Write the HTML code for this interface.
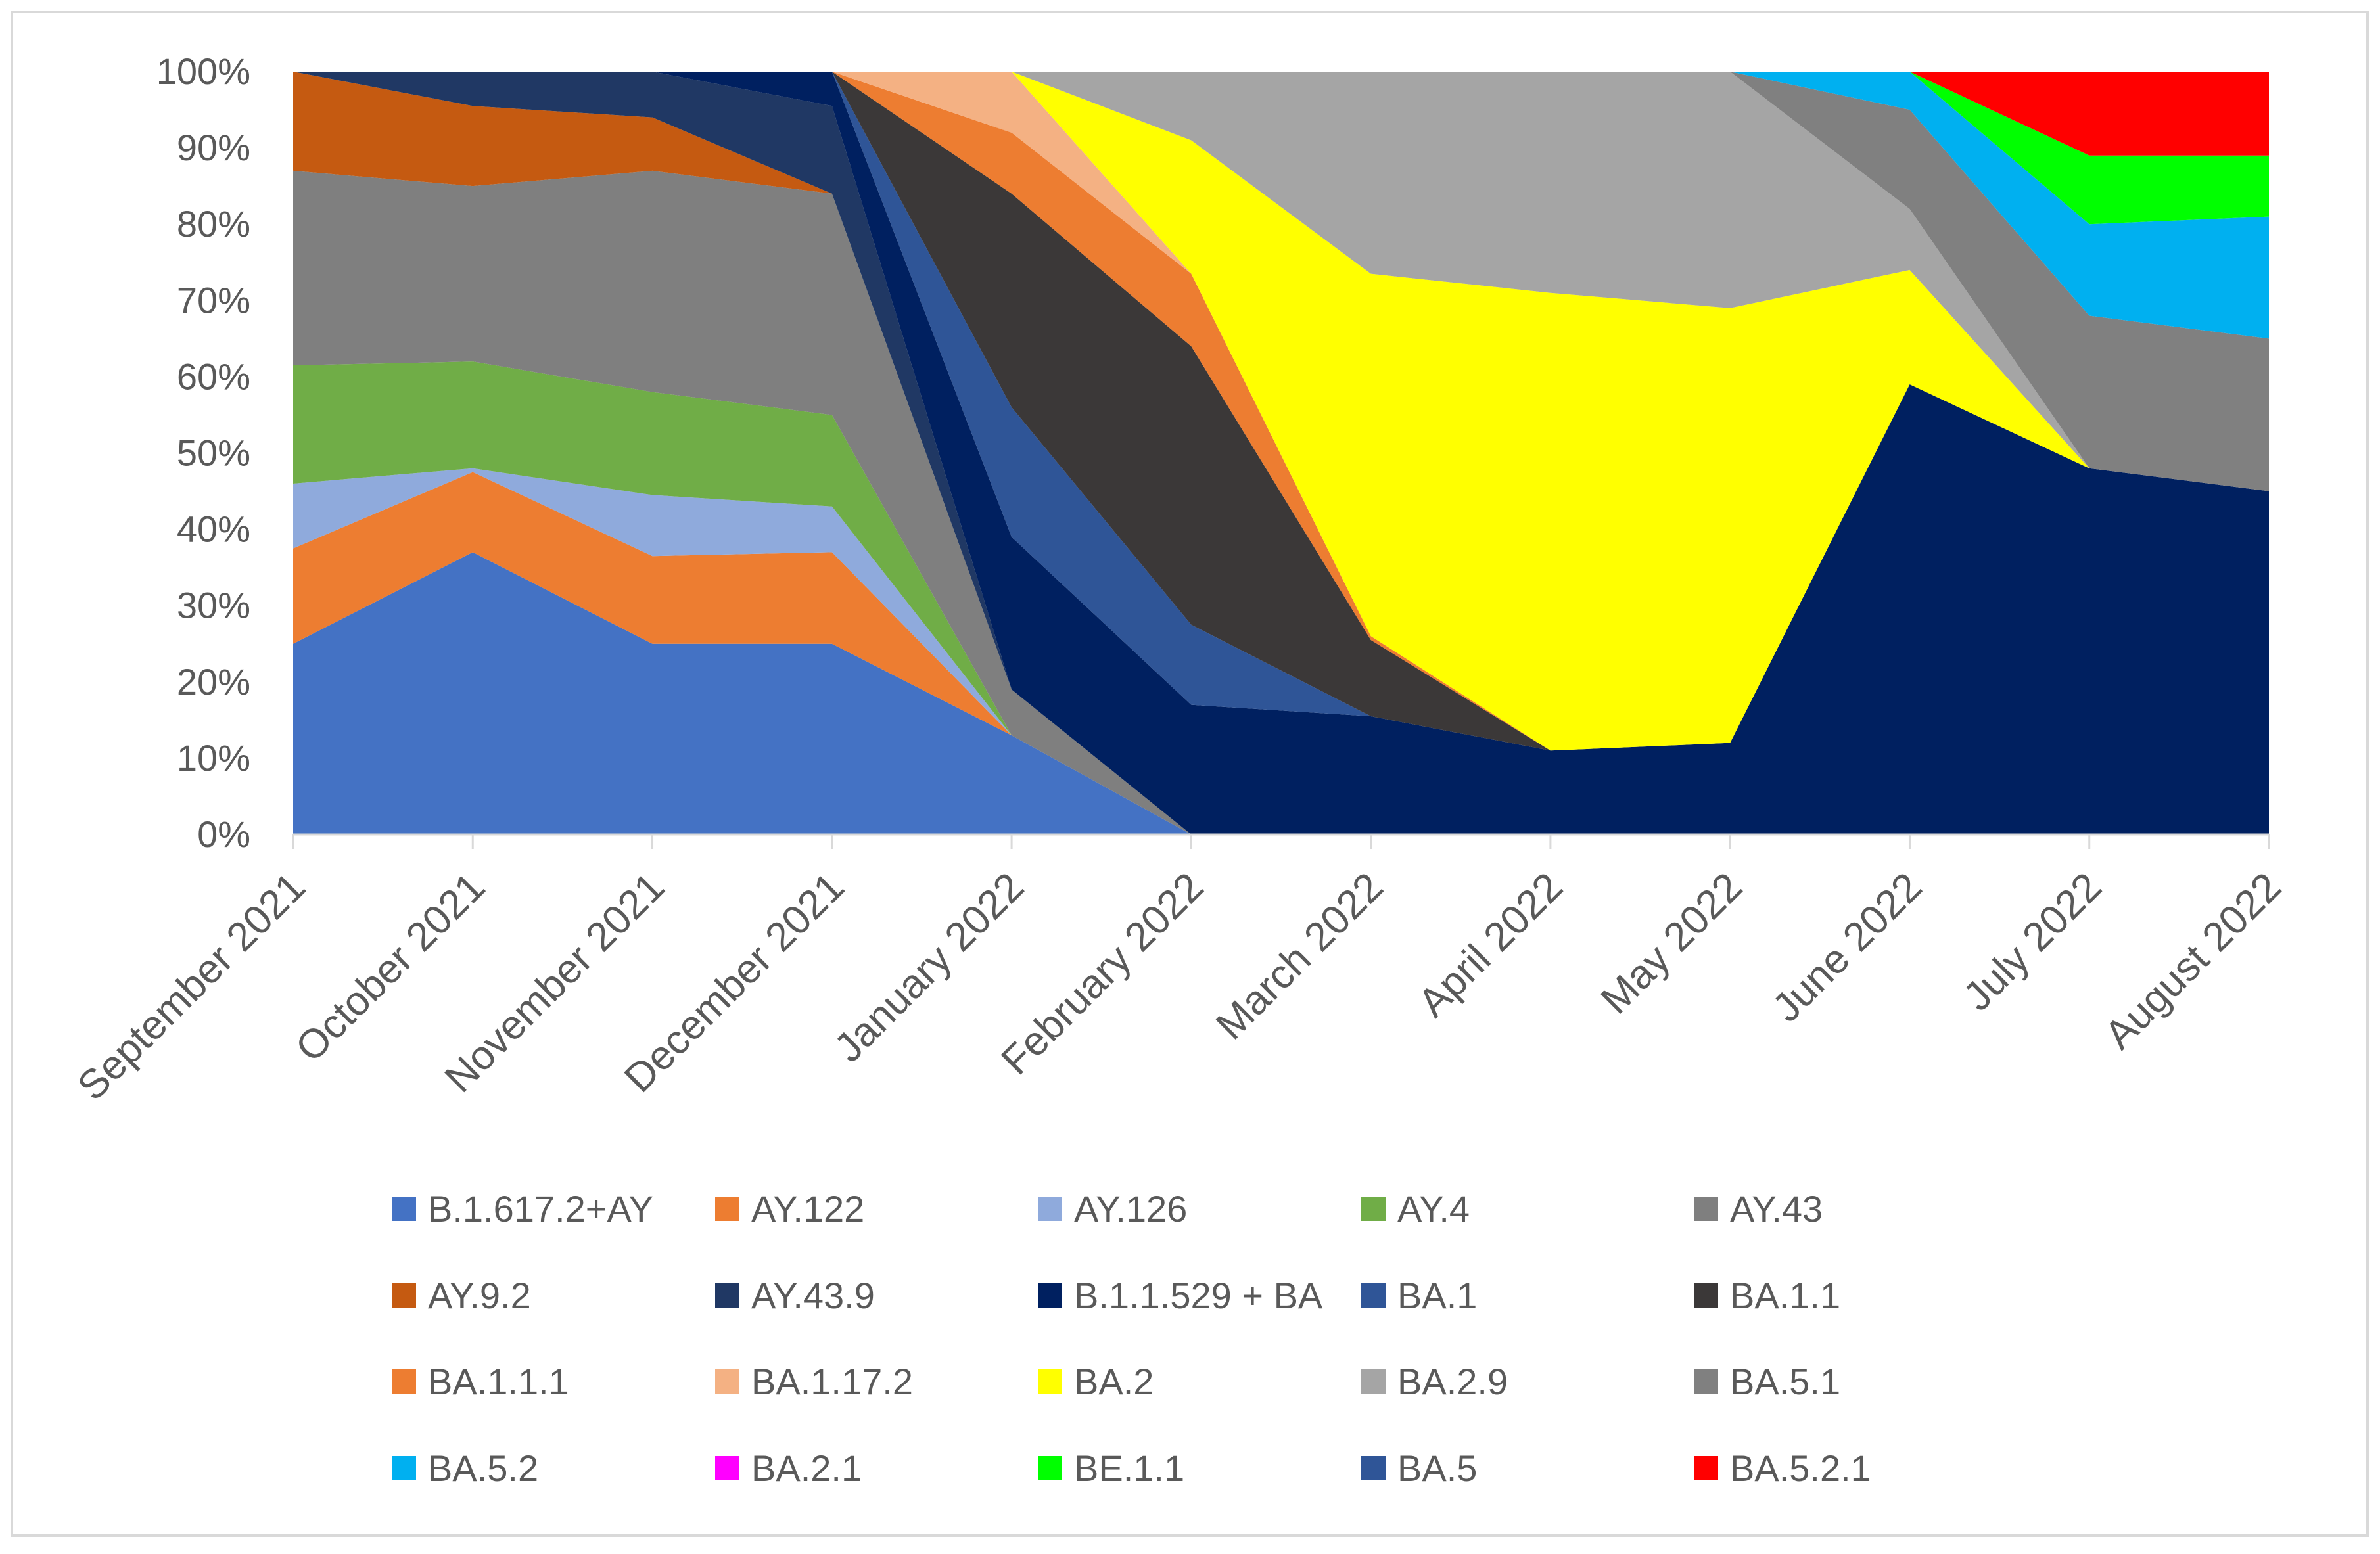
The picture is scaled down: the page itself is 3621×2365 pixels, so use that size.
<!DOCTYPE html>
<html><head><meta charset="utf-8"><style>
html,body{margin:0;padding:0;background:#fff;}
body{width:3621px;height:2360px;overflow:hidden;font-family:"Liberation Sans",sans-serif;}
</style></head><body>
<svg id="chart" width="3621" height="2360" xmlns="http://www.w3.org/2000/svg">
<rect x="18" y="18" width="3584" height="2319" fill="#fff" stroke="#D9D9D9" stroke-width="4"/>
<g id="areas"></g>
<g id="axes"></g>
<g id="legend"></g>
</svg>
<script>
const months = ["September 2021","October 2021","November 2021","December 2021","January 2022","February 2022","March 2022","April 2022","May 2022","June 2022","July 2022","August 2022"];
const yTicks = ["0%","10%","20%","30%","40%","50%","60%","70%","80%","90%","100%"];
const seriesNames = ["B.1.617.2+AY","AY.122","AY.126","AY.4","AY.43","AY.9.2","AY.43.9","B.1.1.529 + BA","BA.1","BA.1.1","BA.1.1.1","BA.1.17.2","BA.2","BA.2.9","BA.5.1","BA.5.2","BA.2.1","BE.1.1","BA.5","BA.5.2.1"];
const vB1617 = [25,37,25,25,13,0,0,0,0,0,0,0];
const vAY122 = [12.5,10.5,11.5,12,0,0,0,0,0,0,0,0];
const vAY126 = [8.5,0.5,8,6,0,0,0,0,0,0,0,0];
const vAY4 = [15.5,14,13.5,12,0,0,0,0,0,0,0,0];
const vAY43 = [25.5,23,29,29,6,0,0,0,0,0,0,0];
const vAY92 = [13,10.5,7,0,0,0,0,0,0,0,0,0];
const vAY439 = [0,4.5,6,11.5,0,0,0,0,0,0,0,0];
const vB11529 = [0,0,0,4.5,20,17,15.5,11,12,59,48,45];
const vBA1 = [0,0,0,0,17,10.5,0,0,0,0,0,0];
const vBA11 = [0,0,0,0,28,36.5,10,0,0,0,0,0];
const vBA111 = [0,0,0,0,8,9.5,0.5,0,0,0,0,0];
const vBA1172 = [0,0,0,0,8,0,0,0,0,0,0,0];
const vBA2 = [0,0,0,0,0,17.5,47.5,60,57,15,0,0];
const vBA29 = [0,0,0,0,0,9,26.5,29,31,8,0,0];
const vBA51 = [0,0,0,0,0,0,0,0,0,13,20,20];
const vBA52 = [0,0,0,0,0,0,0,0,0,5,12,16];
const vBA21 = [0,0,0,0,0,0,0,0,0,0,0,0];
const vBE11 = [0,0,0,0,0,0,0,0,0,0,9,8];
const vBA5 = [0,0,0,0,0,0,0,0,0,0,0,0];
const vBA521 = [0,0,0,0,0,0,0,0,0,0,11,11];
const seriesValues = [vB1617,vAY122,vAY126,vAY4,vAY43,vAY92,vAY439,vB11529,vBA1,vBA11,vBA111,vBA1172,vBA2,vBA29,vBA51,vBA52,vBA21,vBE11,vBA5,vBA521];
const colors = ["#4472C4","#ED7D31","#8FAADC","#70AD47","#7F7F7F","#C55A11","#203864","#002060","#2F5597","#3B3838","#ED7D31","#F4B183","#FFFF00","#A5A5A5","#808080","#00B0F0","#FF00FF","#00FF00","#2F5597","#FF0000"];

const NS="http://www.w3.org/2000/svg";
const X0=446,X1=3452,Y0=1270,Y100=109;
const xS=i=>X0+(X1-X0)*i/(months.length-1);
const yS=v=>Y0-(Y0-Y100)*v/100;
function mk(t,a){const e=document.createElementNS(NS,t);for(const k in a)e.setAttribute(k,a[k]);return e;}
const areas=document.getElementById('areas'),axes=document.getElementById('axes'),legend=document.getElementById('legend');
let base=months.map(()=>0);
seriesValues.forEach((vals,si)=>{
  const top=base.map((b,i)=>b+vals[i]);
  let pts=top.map((v,i)=>xS(i)+","+yS(v));
  for(let i=months.length-1;i>=0;i--)pts.push(xS(i)+","+yS(base[i]));
  const p=mk('polygon',{points:pts.join(' '),fill:colors[si]});
  
  
  areas.appendChild(p);
  base=top;
});
const axl=mk('line',{x1:X0,y1:Y0,x2:X1,y2:Y0,stroke:'#D9D9D9','stroke-width':3});


axes.appendChild(axl);
yTicks.forEach((t,i)=>{
  const e=mk('text',{x:381,y:yS(i*10)+19,'text-anchor':'end','font-size':56,fill:'#595959'});
  e.textContent=t;
  
  
  axes.appendChild(e);
});
months.forEach((m,i)=>{
  const tk=mk('line',{x1:xS(i),y1:Y0,x2:xS(i),y2:Y0+22,stroke:'#D9D9D9','stroke-width':3});
  
  
  axes.appendChild(tk);
  const x=xS(i)+22,y=Y0+84;
  const e=mk('text',{x:x,y:y,'text-anchor':'end','font-size':62,fill:'#595959',transform:`rotate(-45 ${x} ${y})`});
  e.textContent=m;
  
  
  axes.appendChild(e);
});
const colX=[596,1088,1579,2071,2577],rowY=[1840,1972,2103,2235];
seriesNames.forEach((n,i)=>{
  const cx=colX[i%5],cy=rowY[Math.floor(i/5)];
  const g=mk('g',{});
  
  
  g.appendChild(mk('rect',{x:cx,y:cy-19,width:37,height:37,fill:colors[i]}));
  const t=mk('text',{x:cx+55,y:cy+19,'font-size':56,fill:'#595959'});
  t.textContent=n;
  g.appendChild(t);
  legend.appendChild(g);
});
</script>
</body></html>
